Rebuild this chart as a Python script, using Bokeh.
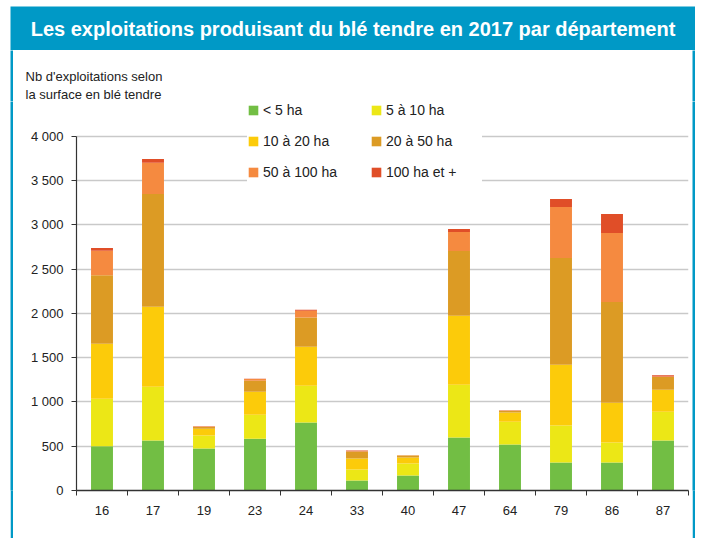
from bokeh.plotting import figure
from bokeh.models import Range1d, FixedTicker, Legend, LegendItem, Label, ColumnDataSource
from bokeh.layouts import column, row
from bokeh.embed import file_html
from bokeh.resources import INLINE

# ---- data ----
depts = ["16", "17", "19", "23", "24", "33", "40", "47", "64", "79", "86", "87"]
classes = ["< 5 ha", "5 à 10 ha", "10 à 20 ha", "20 à 50 ha", "50 à 100 ha", "100 ha et +"]
lt5 = [500, 564, 474, 586, 767, 113, 169, 598, 519, 316, 316, 564]
h5_10 = [537, 609, 146, 271, 417, 124, 135, 597, 259, 417, 225, 327]
h10_20 = [621, 902, 79, 259, 440, 124, 68, 778, 102, 688, 451, 248]
h20_50 = [774, 1274, 19, 124, 331, 79, 23, 733, 22, 1207, 1139, 143]
h50_100 = [278, 354, 4, 19, 75, 4, 2, 215, 3, 575, 778, 7]
h100p = [30, 41, 3, 4, 11, 7, 1, 34, 1, 90, 215, 12]
y_ticks = [0, 500, 1000, 1500, 2000, 2500, 3000, 3500, 4000]
y_tick_labels = ["0", "500", "1 000", "1 500", "2 000", "2 500", "3 000", "3 500", "4 000"]

TITLE = "Les exploitations produisant du blé tendre en 2017 par département"
YLABEL1 = "Nb d'exploitations selon"
YLABEL2 = "la surface en blé tendre"

colors = ["#72be44", "#ece716", "#fccb0a", "#dc9b24", "#f58a40", "#e04e28"]
BLUE = "#0099c6"
FONT = "Liberation Sans"
AXIS = "#333333"

n = len(depts)
centers = [i + 0.5 for i in range(n)]
keys = ["c%d" % i for i in range(len(classes))]
series = [lt5, h5_10, h10_20, h20_50, h50_100, h100p]
data = {"x": centers}
for k, s in zip(keys, series):
    data[k] = s
source = ColumnDataSource(data)

# ---- title band ----
tfig = figure(width=685, height=44, x_range=Range1d(0, 1), y_range=Range1d(0, 1),
              toolbar_location=None, output_backend="svg", x_axis_type=None, y_axis_type=None,
              min_border=0, background_fill_color=BLUE, border_fill_color=BLUE,
              outline_line_color=None)
tfig.add_layout(Label(x=0.5, y=0.5, text=TITLE, text_align="center", text_baseline="middle",
                      text_color="white", text_font=FONT, text_font_style="bold",
                      text_font_size="20px"))

# ---- y-axis caption band ----
yfig = figure(width=679, height=51, x_range=Range1d(0, 1), y_range=Range1d(0, 1),
              toolbar_location=None, output_backend="svg", x_axis_type=None, y_axis_type=None,
              min_border=0, background_fill_color="white", border_fill_color="white",
              outline_line_color=None)
yfig.add_layout(Label(x=12, y=25, x_units="screen", y_units="screen", text=YLABEL1,
                      text_font=FONT, text_font_size="13px", text_color="#222222",
                      text_baseline="alphabetic"))
yfig.add_layout(Label(x=12, y=7, x_units="screen", y_units="screen", text=YLABEL2,
                      text_font=FONT, text_font_size="13px", text_color="#222222",
                      text_baseline="alphabetic"))

# ---- chart ----
p = figure(width=679, height=437, x_range=Range1d(0, n), y_range=Range1d(0, 4395),
           toolbar_location=None, output_backend="svg",
           min_border_left=63, min_border_right=4, min_border_top=0, min_border_bottom=48,
           outline_line_color=None, background_fill_color="white", border_fill_color="white")

rs = p.vbar_stack(keys, x="x", width=0.43, fill_color=colors, line_color=None, source=source)

yt = FixedTicker(ticks=y_ticks)
ya = p.yaxis[0]
ya.ticker = yt
ya.bounds = (0, 4000)
ya.major_label_overrides = {t: l for t, l in zip(y_ticks, y_tick_labels)}
ya.major_tick_out = 5
ya.major_tick_in = 0
ya.minor_tick_out = 0
ya.minor_tick_in = 0
ya.axis_line_color = AXIS
ya.axis_line_width = 1.2
ya.major_tick_line_color = AXIS
ya.major_label_standoff = 8
ya.major_label_text_font = FONT
ya.major_label_text_font_size = "13px"
ya.major_label_text_color = "#222222"

xa = p.xaxis[0]
xa.ticker = FixedTicker(ticks=centers, minor_ticks=list(range(n + 1)))
xa.major_label_overrides = {c: d for c, d in zip(centers, depts)}
xa.major_tick_out = 0
xa.major_tick_in = 0
xa.minor_tick_out = 5
xa.minor_tick_in = 0
xa.minor_tick_line_color = AXIS
xa.axis_line_color = AXIS
xa.axis_line_width = 1.5
xa.major_label_standoff = 10
xa.major_label_text_font = FONT
xa.major_label_text_font_size = "13px"
xa.major_label_text_color = "#222222"

p.xgrid.visible = False
p.ygrid.ticker = yt
p.ygrid.grid_line_color = "#c9c9c9"
p.ygrid.grid_line_width = 1.5

order = [0, 2, 4, 1, 3, 5]
items = [LegendItem(label=classes[i], renderers=[rs[i]]) for i in order]
legend = Legend(items=items, location=(171, 308), orientation="vertical", ncols=2,
                glyph_width=12, glyph_height=12, label_height=20, label_width=96,
                spacing=11, padding=12, margin=0, label_standoff=4,
                background_fill_color="white", background_fill_alpha=1.0,
                border_line_color=None, label_text_font=FONT,
                label_text_font_size="14px", label_text_color="#222222")
p.add_layout(legend)

def strip(h):
    return figure(width=3, height=h, toolbar_location=None, output_backend="svg",
                  x_axis_type=None, y_axis_type=None, min_border=0,
                  background_fill_color=BLUE, border_fill_color=BLUE, outline_line_color=None)

layout = column(tfig,
                row(strip(51), yfig, strip(51)),
                row(strip(437), p, strip(437)),
                margin=(6, 0, 0, 10))

open("out.html", "w").write(file_html(layout, INLINE))
